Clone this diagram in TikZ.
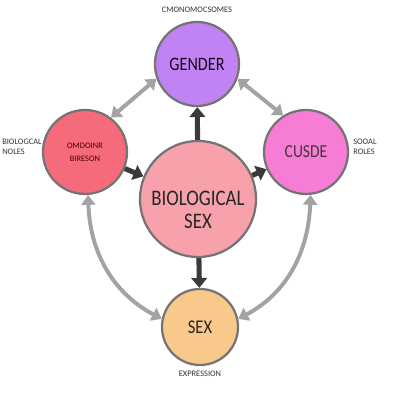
\documentclass[tikz,border=0pt]{standalone}
\usepackage{fontspec}
\setmainfont{Carlito}
\newfontfamily\narrowfont[FakeStretch=0.85]{Carlito}
\usepackage{tikz}
\usetikzlibrary{arrows.meta}

\definecolor{ringgray}{HTML}{747474}
\definecolor{linkgray}{HTML}{A3A3A3}
\definecolor{pushdark}{HTML}{3A3A3A}
\definecolor{gendfill}{HTML}{C183F4}
\definecolor{leftfill}{HTML}{F66B7B}
\definecolor{rightfill}{HTML}{F67CD6}
\definecolor{biofill}{HTML}{F7A2AB}
\definecolor{sexfill}{HTML}{F9C98B}

\tikzset{
    blob/.style={circle, draw=ringgray, line width=1.6pt, inner sep=0pt, align=center},
    push/.style={draw=pushdark, line width=3.6pt, -{Triangle[length=7pt, width=11pt]}},
    link/.style={draw=linkgray, line width=2.8pt, {Triangle[length=7pt, width=10pt]}-{Triangle[length=7pt, width=10pt]}},
    tag/.style={font=\fontsize{6}{7}\selectfont, text=black!80, align=left, inner sep=0pt}
}

\begin{document}
\begin{tikzpicture}[x=0.025cm, y=-0.025cm]
        \useasboundingbox (0,0) rectangle (400,400);

        \node[blob, fill=gendfill, minimum size=2.1cm, text=black!80!violet, font=\narrowfont\fontsize{13.5}{15}\selectfont] (gender) at (197,64) {GENDER};
        \node[blob, fill=leftfill, minimum size=2.1cm, text=black!70!red, font=\fontsize{6}{9}\selectfont] (organ) at (85,152) {OMDOINR\\BIRESON};
        \node[blob, fill=rightfill, minimum size=2.1cm, text=black!85!magenta, font=\narrowfont\fontsize{13}{15}\selectfont] (cusde) at (306,152) {CUSDE};
        \node[blob, fill=biofill, minimum size=2.9cm,
            label={[name=biotext, align=center, text=black!85, font=\narrowfont\fontsize{15.8}{16.5}\selectfont, yshift=-0.27cm]center:{BIOLOGICAL\\SEX}}] (bio) at (198,199) {};
        \node[blob, fill=sexfill, minimum size=1.9cm, text=black!85, font=\narrowfont\fontsize{13.8}{15}\selectfont] (sex) at (200,327) {SEX};

        \node[tag, anchor=center] (chrom) at (197,10) {CMONOMOCSOMES};
        \node[tag, anchor=west] (broles) at (2,147) {BIOLOGCAL\\NOLES};
        \node[tag, anchor=west] (sroles) at (353,147) {SOOAL\\ROLES};
        \node[tag, anchor=center] (expr) at (200,374) {EXPRESSION};

        \draw[push] (bio) -- (gender);
        \draw[push] (organ) -- (bio);
        \draw[push] (bio) -- (cusde);
        \draw[push] (bio) -- (sex);

        \draw[link] (organ.53) -- (gender.200);
        \draw[link] (gender.340) -- (cusde.122);
        \draw[link] (organ.-86) to[out=-88, in=152] (sex.168);
        \draw[link] (cusde.-84) to[out=-92, in=28] (sex.12);
    \end{tikzpicture}
\end{document}
